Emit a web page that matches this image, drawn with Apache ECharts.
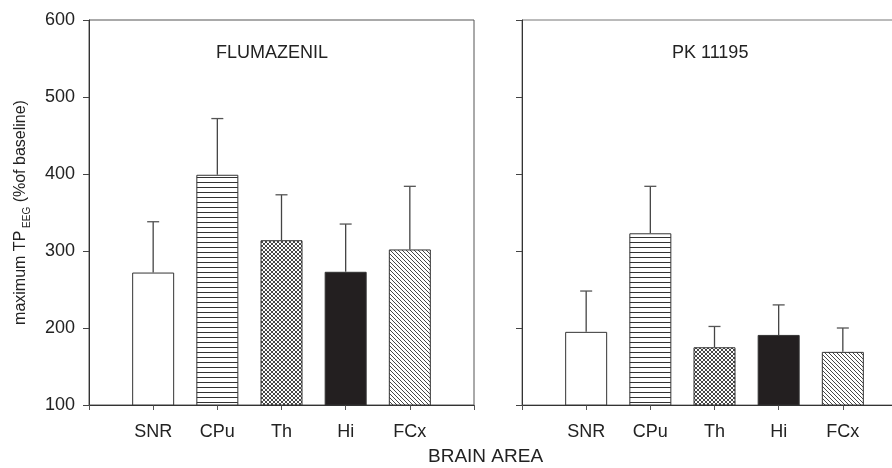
<!DOCTYPE html>
<html>
<head>
<meta charset="utf-8">
<script src="https://cdn.jsdelivr.net/npm/echarts@6/dist/echarts.min.js"></script>
<style>
  html, body { margin: 0; padding: 0; background: #fff; }
  #chart { width: 892px; height: 468px; }
</style>
</head>
<body>
<div id="chart"></div>
<script>
"use strict";

// data
var areas = ["", "SNR", "CPu", "Th", "Hi", "FCx", ""];
var flumMean = [272, 399, 314, 273, 302];
var flumSem = [66, 73, 59, 62, 82];
var pkMean = [195, 323, 175, 191, 169];
var pkSem = [53, 61, 27, 39, 31];
var yTicks = [100, 200, 300, 400, 500, 600];

var FONT = "Liberation Sans";
var INK = "#222";

// pattern tiles
function tile(w, h, draw) {
  var c = document.createElement("canvas");
  c.width = w;
  c.height = h;
  var ctx = c.getContext("2d");
  ctx.fillStyle = "#fff";
  ctx.fillRect(0, 0, w, h);
  ctx.strokeStyle = "#333";
  ctx.lineWidth = 1;
  draw(ctx);
  return { image: c, repeat: "repeat" };
}

var fills = [
  "#fff",
  // horizontal lines
  tile(8, 5, function (ctx) {
    ctx.beginPath();
    ctx.moveTo(0, 2.5);
    ctx.lineTo(8, 2.5);
    ctx.stroke();
  }),
  // cross hatch
  tile(4, 4, function (ctx) {
    ctx.lineWidth = 0.9;
    ctx.beginPath();
    ctx.moveTo(-1, -1); ctx.lineTo(5, 5);
    ctx.moveTo(5, -1); ctx.lineTo(-1, 5);
    ctx.stroke();
  }),
  "#231f20",
  // diagonal lines
  tile(4, 4, function (ctx) {
    ctx.lineWidth = 0.9;
    ctx.beginPath();
    ctx.moveTo(-1, -1); ctx.lineTo(5, 5);
    ctx.moveTo(-3, 1); ctx.lineTo(1, 5);
    ctx.moveTo(3, -1); ctx.lineTo(5, 1);
    ctx.stroke();
  })
];

function barData(means) {
  return means.map(function (v, i) {
    return {
      value: [i + 1, v],
      itemStyle: { color: fills[i] }
    };
  });
}

function errData(means, sems) {
  return means.map(function (v, i) {
    return [i + 1, v, v + sems[i]];
  });
}

function errRender(params, api) {
  var base = api.coord([api.value(0), api.value(1)]);
  var top = api.coord([api.value(0), api.value(2)]);
  var cap = 6;
  return {
    type: "group",
    children: [{
      type: "line",
      shape: { x1: base[0], y1: base[1], x2: top[0], y2: top[1] },
      style: { stroke: "#444", lineWidth: 1.3 }
    }, {
      type: "line",
      shape: { x1: top[0] - cap, y1: top[1], x2: top[0] + cap, y2: top[1] },
      style: { stroke: "#555", lineWidth: 1.3 }
    }]
  };
}

function xAxisFor(gi) {
  return {
    type: "category",
    gridIndex: gi,
    data: areas,
    boundaryGap: false,
    axisLine: { lineStyle: { color: "#333", width: 1 } },
    axisTick: { interval: 0, length: 5, lineStyle: { color: "#555" } },
    axisLabel: { interval: 0, color: INK, fontFamily: FONT, fontSize: 18, margin: 18 },
    splitLine: { show: false }
  };
}

function yAxisFor(gi, showLabels, inside) {
  return {
    type: "value",
    gridIndex: gi,
    min: yTicks[0],
    max: yTicks[yTicks.length - 1],
    interval: 100,
    axisLine: { show: true, lineStyle: { color: "#333", width: 1 } },
    axisTick: { show: true, inside: !!inside, length: 6, lineStyle: { color: "#444" } },
    axisLabel: { show: showLabels, color: INK, fontFamily: FONT, fontSize: 18, margin: 14 },
    splitLine: { show: false }
  };
}

var leftY = yAxisFor(0, true, false);
leftY.name = "{m|maximum TP}{s| EEG}{m| (%of baseline)}";
leftY.nameLocation = "middle";
leftY.nameGap = 60;
leftY.nameRotate = 90;
leftY.nameTextStyle = {
  rich: {
    m: { fontFamily: FONT, fontSize: 16, color: INK, lineHeight: 20, verticalAlign: "bottom" },
    s: { fontFamily: FONT, fontSize: 10, color: INK, lineHeight: 20, verticalAlign: "bottom", padding: [0, 0, -3, 0] }
  }
};

var chart = echarts.init(document.getElementById("chart"), null, { renderer: "canvas" });

chart.setOption({
  animation: false,
  backgroundColor: "#fff",
  grid: [
    { left: 89, right: 418, top: 20, bottom: 63, show: true, borderColor: "#555", borderWidth: 1, outerBoundsMode: "none" },
    { left: 522, width: 385, top: 20, bottom: 63, show: true, borderColor: "#777", borderWidth: 1, outerBoundsMode: "none" }
  ],
  xAxis: [xAxisFor(0), xAxisFor(1)],
  yAxis: [leftY, yAxisFor(1, false, false), yAxisFor(1, false, true)],
  graphic: [
    { type: "text", left: 216, top: 44, style: { text: "FLUMAZENIL", fontFamily: FONT, fontSize: 18, fill: INK } },
    { type: "text", left: 672, top: 44, style: { text: "PK 11195", fontFamily: FONT, fontSize: 18, fill: INK } },
    { type: "text", left: 428, top: 447, style: { text: "BRAIN AREA", fontFamily: FONT, fontSize: 19, fill: INK } }
  ],
  series: [{
    type: "bar",
    xAxisIndex: 0,
    yAxisIndex: 0,
    barWidth: 42,
    itemStyle: { borderColor: "#333", borderWidth: 1 },
    data: barData(flumMean),
    z: 2
  }, {
    type: "custom",
    xAxisIndex: 0,
    yAxisIndex: 0,
    renderItem: errRender,
    data: errData(flumMean, flumSem),
    z: 3
  }, {
    type: "bar",
    xAxisIndex: 1,
    yAxisIndex: 1,
    barWidth: 42,
    itemStyle: { borderColor: "#333", borderWidth: 1 },
    data: barData(pkMean),
    z: 2
  }, {
    type: "custom",
    xAxisIndex: 1,
    yAxisIndex: 1,
    renderItem: errRender,
    data: errData(pkMean, pkSem),
    z: 3
  }]
});
</script>
</body>
</html>
